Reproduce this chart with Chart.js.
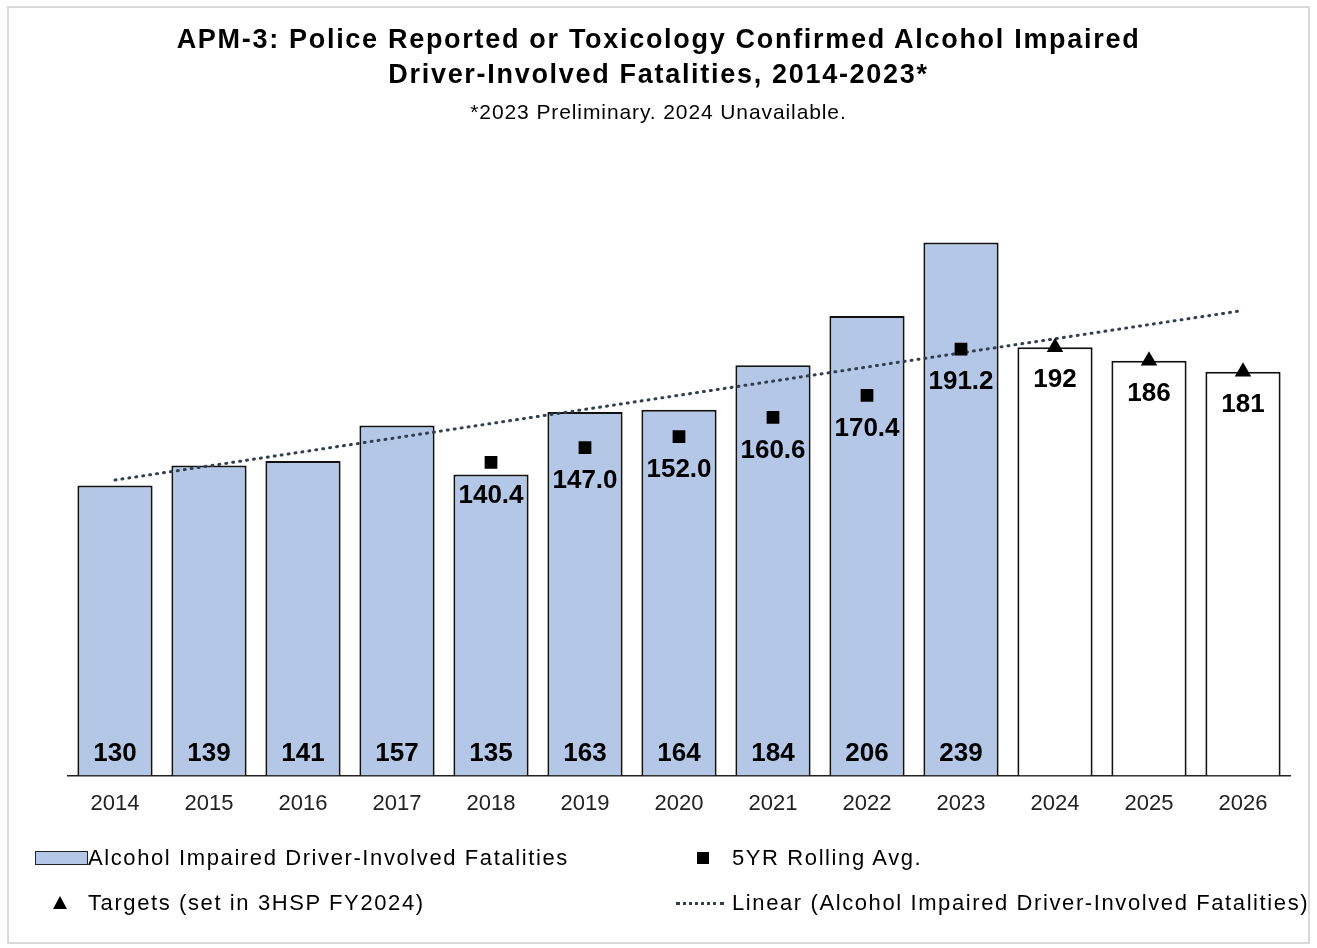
<!DOCTYPE html>
<html lang="en">
<head>
    <meta charset="UTF-8">
    <title>APM-3 Alcohol Impaired Fatalities</title>
    <script src="https://cdn.jsdelivr.net/npm/chart.js"></script>
    <style>
        body {
            margin: 0;
            font-family: "Liberation Sans", Arial, sans-serif;
            background: #fff;
        }
        #frame {
            position: absolute;
            left: 7px; top: 6px;
            width: 1303px; height: 938px;
            border: 2px solid #d9d9d9;
            box-sizing: border-box;
        }
        #chartCanvas {
            position: absolute;
            left: 0; top: 0;
        }
        .title {
            position: absolute;
            left: 0; width: 1317px;
            text-align: center;
            color: #000;
        }
        .legend-item {
            position: absolute;
            font-size: 22px;
            letter-spacing: 1.6px;
            color: #000;
            white-space: nowrap;
        }
        .sw { position: absolute; }
    </style>
</head>
<body>
    <div id="frame"></div>
    <canvas id="chartCanvas" width="1317" height="948"></canvas>

    <div class="title" style="top:22px; font-size:27px; font-weight:bold; line-height:35px; letter-spacing:1.7px;">
        APM-3: Police Reported or Toxicology Confirmed Alcohol Impaired<br>Driver-Involved Fatalities, 2014-2023*
    </div>
    <div class="title" style="top:100px; font-size:21px; letter-spacing:0.9px;">*2023 Preliminary. 2024 Unavailable.</div>

    <!-- legend -->
    <div class="sw" style="left:35px; top:851px; width:51px; height:12px; background:#b4c7e7; border:1.5px solid #222;"></div>
    <div class="legend-item" style="left:88px; top:845px;">Alcohol Impaired Driver-Involved Fatalities</div>

    <div class="sw" style="left:697px; top:852px; width:12px; height:12px; background:#000;"></div>
    <div class="legend-item" style="left:732px; top:845px;">5YR Rolling Avg.</div>

    <div class="sw" style="left:53px; top:896px; width:0; height:0; border-left:7px solid transparent; border-right:7px solid transparent; border-bottom:13px solid #000;"></div>
    <div class="legend-item" style="left:88px; top:890px;">Targets (set in 3HSP FY2024)</div>

    <div class="sw" style="left:676px; top:902px; width:48px; height:0; border-top:3px dotted #333f50;"></div>
    <div class="legend-item" style="left:732px; top:890px;">Linear (Alcohol Impaired Driver-Involved Fatalities)</div>

    <script>
        const years = ['2014', '2015', '2016', '2017', '2018', '2019', '2020', '2021', '2022', '2023', '2024', '2025', '2026'];
        const fatalities = [130, 139, 141, 157, 135, 163, 164, 184, 206, 239, null, null, null];
        const rollingAvg = [null, null, null, null, 140.4, 147.0, 152.0, 160.6, 170.4, 191.2, null, null, null];
        const targets = [null, null, null, null, null, null, null, null, null, null, 192, 186, 181];
        // trend line at its two ends (2014 and 2026)
        const trendLine = [132.5, null, null, null, null, null, null, null, null, null, null, null, 208.5];

        // draws the value labels
        const valueLabels = {
            id: 'valueLabels',
            afterDatasetsDraw(chart) {
                const ctx = chart.ctx;
                ctx.save();
                ctx.fillStyle = '#000';
                ctx.textAlign = 'center';
                ctx.textBaseline = 'middle';
                ctx.font = 'bold 26px "Liberation Sans", Arial, sans-serif';
                const bottom = chart.chartArea.bottom;

                chart.getDatasetMeta(0).data.forEach((bar, i) => {
                    if (fatalities[i] == null) return;
                    ctx.fillText(String(fatalities[i]), bar.x, bottom - 22);
                });
                chart.getDatasetMeta(2).data.forEach((pt, i) => {
                    if (rollingAvg[i] == null) return;
                    ctx.fillText(rollingAvg[i].toFixed(1), pt.x, pt.y + 33);
                });
                chart.getDatasetMeta(3).data.forEach((pt, i) => {
                    if (targets[i] == null) return;
                    ctx.fillText(String(targets[i]), pt.x, pt.y + 33);
                });
                ctx.restore();
            }
        };

        const ctx = document.getElementById('chartCanvas').getContext('2d');
        new Chart(ctx, {
            type: 'bar',
            data: {
                labels: years,
                datasets: [
                    {
                        label: 'Alcohol Impaired Driver-Involved Fatalities',
                        data: fatalities,
                        backgroundColor: '#b4c7e7',
                        borderColor: '#111',
                        borderWidth: 2,
                        grouped: false,
                        categoryPercentage: 0.8,
                        barPercentage: 1.0,
                        order: 5
                    },
                    {
                        label: 'Target bars',
                        data: targets,
                        backgroundColor: '#fff',
                        borderColor: '#111',
                        borderWidth: 2,
                        grouped: false,
                        categoryPercentage: 0.8,
                        barPercentage: 1.0,
                        order: 4
                    },
                    {
                        type: 'line',
                        label: '5YR Rolling Avg.',
                        data: rollingAvg,
                        showLine: false,
                        pointStyle: 'rect',
                        pointRadius: 9,
                        pointBackgroundColor: '#000',
                        pointBorderColor: '#000',
                        pointBorderWidth: 0,
                        order: 1
                    },
                    {
                        type: 'line',
                        label: 'Targets (set in 3HSP FY2024)',
                        data: targets,
                        showLine: false,
                        pointStyle: 'triangle',
                        pointRadius: 9.5,
                        pointBackgroundColor: '#000',
                        pointBorderColor: '#000',
                        pointBorderWidth: 0,
                        order: 1
                    },
                    {
                        type: 'line',
                        label: 'Linear (Alcohol Impaired Driver-Involved Fatalities)',
                        data: trendLine,
                        spanGaps: true,
                        borderColor: '#333f50',
                        borderWidth: 3,
                        borderDash: [1, 6],
                        borderCapStyle: 'round',
                        pointRadius: 0,
                        order: 2
                    }
                ]
            },
            options: {
                responsive: false,
                animation: false,
                layout: {
                    padding: { left: 68, right: 27, top: 151, bottom: 116 }
                },
                plugins: {
                    legend: { display: false },
                    title: { display: false },
                    tooltip: { enabled: false }
                },
                scales: {
                    x: {
                        grid: { display: false, drawTicks: false },
                        border: { display: true, color: '#222', width: 1.5 },
                        ticks: {
                            color: '#222',
                            padding: 15,
                            font: { family: '"Liberation Sans", Arial, sans-serif', size: 22 }
                        }
                    },
                    y: {
                        display: false,
                        min: 0,
                        max: 280
                    }
                }
            },
            plugins: [valueLabels]
        });
    </script>
</body>
</html>
